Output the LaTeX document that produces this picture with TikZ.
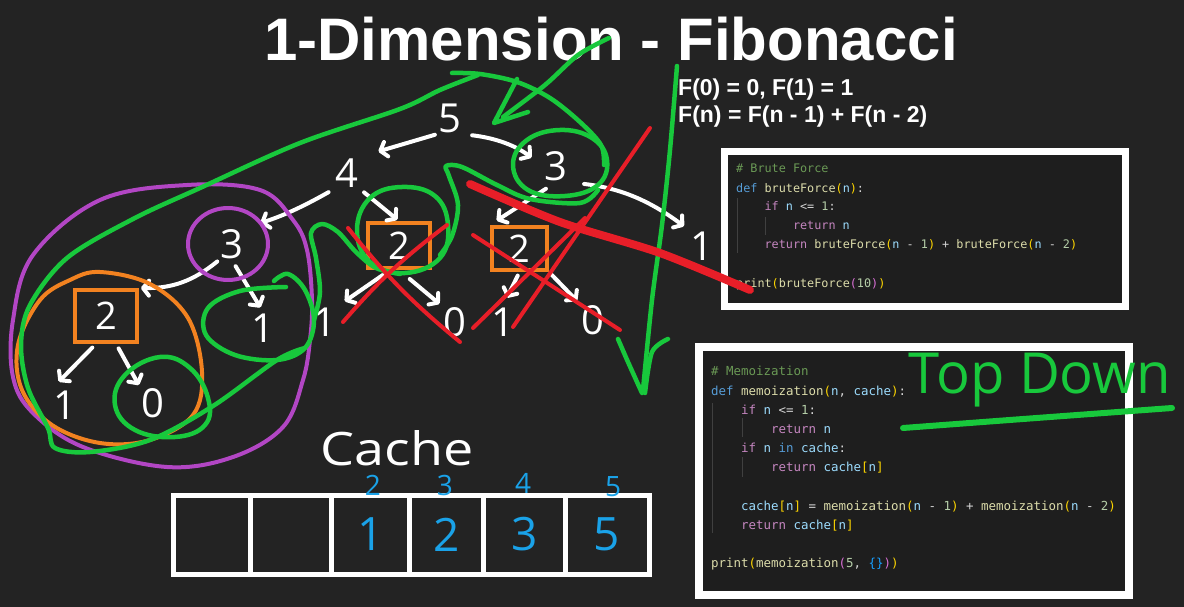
\documentclass[tikz,border=0pt]{standalone}
\usepackage{fontspec}
\usepackage{graphicx}
\setmainfont{Liberation Sans}
\newfontfamily\codefont{DejaVu Sans Mono}
\newfontfamily\handfont{Open Sans}
\usetikzlibrary{arrows.meta,calc}

% board and pen colours
\definecolor{board}{RGB}{35,35,35}
\definecolor{panel}{RGB}{30,30,30}
\definecolor{pengreen}{RGB}{24,200,60}
\definecolor{penpurple}{RGB}{178,70,196}
\definecolor{penorange}{RGB}{242,130,32}
\definecolor{penred}{RGB}{232,30,40}
\definecolor{penblue}{RGB}{26,162,232}
\definecolor{guide}{RGB}{64,64,64}
% editor syntax colours
\definecolor{cCom}{HTML}{6A9955}
\definecolor{cDef}{HTML}{569CD6}
\definecolor{cFn}{HTML}{DCDCAA}
\definecolor{cVar}{HTML}{9CDCFE}
\definecolor{cCtl}{HTML}{C586C0}
\definecolor{cNum}{HTML}{B5CEA8}
\definecolor{cOp}{HTML}{D4D4D4}
\definecolor{cBa}{HTML}{FFD700}
\definecolor{cBb}{HTML}{DA70D6}
\definecolor{cBc}{HTML}{179FFF}

\newcommand\Kcom[1]{\textcolor{cCom}{#1}}
\newcommand\Kdef[1]{\textcolor{cDef}{#1}}
\newcommand\Kfn[1]{\textcolor{cFn}{#1}}
\newcommand\Kvar[1]{\textcolor{cVar}{#1}}
\newcommand\Kctl[1]{\textcolor{cCtl}{#1}}
\newcommand\Knum[1]{\textcolor{cNum}{#1}}
\newcommand\Kbra[1]{\textcolor{cBa}{#1}}
\newcommand\Kbrb[1]{\textcolor{cBb}{#1}}
\newcommand\Kbrc[1]{\textcolor{cBc}{#1}}

\tikzset{
  pen/.style={line width=4pt, line cap=round, line join=round},
  gpen/.style={pen, draw=pengreen, line width=4.5pt},
  ppen/.style={pen, draw=penpurple},
  openpen/.style={pen, draw=penorange},
  rpen/.style={pen, draw=penred},
  num/.style={text=white, font=\handfont\fontsize{40}{40}\selectfont,
    minimum width=26pt, minimum height=32pt, inner sep=0pt},
  obox/.style={draw=penorange, line width=4pt, text=white,
    font=\handfont\fontsize{38}{38}\selectfont, inner sep=0pt},
  warrow/.style={pen, draw=white, -{Straight Barb[round,length=6pt,width=15pt]}},
  codebox/.style={draw=white, fill=panel, inner sep=0pt},
  codeA/.style={anchor=base west, inner sep=0pt, text=cOp,
    font=\codefont\fontsize{11.8}{11.8}\selectfont},
  codeB/.style={anchor=base west, inner sep=0pt, text=cOp,
    font=\codefont\fontsize{12.45}{12.45}\selectfont},
  cell/.style={draw=white, line width=5pt, minimum height=79pt, inner sep=0pt,
    text=penblue, font=\handfont\fontsize{46}{46}\selectfont},
  idx/.style={text=penblue, inner sep=0pt, font=\handfont\fontsize{28}{28}\selectfont},
  guideline/.style={draw=guide, line width=1pt},
}

\begin{document}
\begin{tikzpicture}[x=1pt,y=-1pt]
\useasboundingbox (0,0) rectangle (1184,607);
\fill[board] (0,0) rectangle (1184,607);

% ---------- headings ----------
\node[anchor=base, text=white, inner sep=0pt,
      font=\bfseries\fontsize{60}{60}\selectfont] (title) at (611,61) {1-Dimension - Fibonacci};
\node[anchor=base west, text=white, inner sep=0pt,
      font=\bfseries\fontsize{23}{23}\selectfont] (rec1) at (678,95.5) {F(0) = 0, F(1) = 1};
\node[anchor=base west, text=white, inner sep=0pt,
      font=\bfseries\fontsize{23}{23}\selectfont] (rec2) at (678,122.5) {F(n) = F(n - 1) + F(n - 2)};

% ---------- brute force panel ----------
\node[codebox, line width=7pt, minimum width=401.5pt, minimum height=154.5pt] (brute) at (924.75,228.75) {};
\draw[guideline] (737,198) -- (737,253);
\draw[guideline] (765,217) -- (765,235);
\node[codeA] (b1) at (736,173)   {\Kcom{\# Brute Force}};
\node[codeA] (b2) at (736,192.5) {\Kdef{def} \Kfn{bruteForce}\Kbra{(}\Kvar{n}\Kbra{)}:};
\node[codeA] (b3) at (764.4,211) {\Kctl{if} \Kvar{n} <= \Knum{1}:};
\node[codeA] (b4) at (792.8,229.5) {\Kctl{return} \Kvar{n}};
\node[codeA] (b5) at (764.4,248.5) {\Kctl{return} \Kfn{bruteForce}\Kbra{(}\Kvar{n} - \Knum{1}\Kbra{)} + \Kfn{bruteForce}\Kbra{(}\Kvar{n} - \Knum{2}\Kbra{)}};
\node[codeA] (b6) at (736,287)   {\Kfn{print}\Kbra{(}\Kfn{bruteForce}\Kbrb{(}\Knum{10}\Kbrb{)}\Kbra{)}};

% ---------- memoization panel ----------
\node[codebox, line width=8pt, minimum width=430pt, minimum height=247.5pt] (memo) at (914,470.75) {};
\draw[guideline] (712,403) -- (712,533);
\draw[guideline] (742,418) -- (742,437);
\draw[guideline] (742,457) -- (742,477);
\node[codeB] (m1) at (711,375.7) {\Kcom{\# Memoization}};
\node[codeB] (m2) at (711,395.5) {\Kdef{def} \Kfn{memoization}\Kbra{(}\Kvar{n}, \Kvar{cache}\Kbra{)}:};
\node[codeB] (m3) at (741,414.5) {\Kctl{if} \Kvar{n} <= \Knum{1}:};
\node[codeB] (m4) at (771,433.5) {\Kctl{return} \Kvar{n}};
\node[codeB] (m5) at (741,452.5) {\Kctl{if} \Kvar{n} \Kdef{in} \Kvar{cache}:};
\node[codeB] (m6) at (771,471.5) {\Kctl{return} \Kvar{cache}\Kbra{[}\Kvar{n}\Kbra{]}};
\node[codeB] (m7) at (741,510)   {\Kvar{cache}\Kbra{[}\Kvar{n}\Kbra{]} = \Kfn{memoization}\Kbra{(}\Kvar{n} - \Knum{1}\Kbra{)} + \Kfn{memoization}\Kbra{(}\Kvar{n} - \Knum{2}\Kbra{)}};
\node[codeB] (m8) at (741,529)   {\Kctl{return} \Kvar{cache}\Kbra{[}\Kvar{n}\Kbra{]}};
\node[codeB] (m9) at (711,567)   {\Kfn{print}\Kbra{(}\Kfn{memoization}\Kbrb{(}\Knum{5}, \Kbrc{\{\}}\Kbrb{)}\Kbra{)}};

% ---------- call tree ----------
\node[num] (n5)  at (450,118) {5};
\node[num] (n4)  at (347,173) {4};
\node[num] (n3r) at (556,166) {3};
\node[num] (n3l) at (232,244) {3};
\node[num] (n1r) at (702,246) {1};
\node[num] (n1a) at (263,328) {1};
\node[num] (n1b) at (325,322) {1};
\node[num] (n0a) at (455,322) {0};
\node[num] (n1c) at (503,322) {1};
\node[num] (n0b) at (593,320) {0};
\node[num] (n1d) at (65,405)  {1};
\node[num] (n0c) at (153,403) {0};
\node[obox, minimum width=62pt, minimum height=45pt] (n2m) at (399,245.5) {2};
\node[obox, minimum width=55pt, minimum height=43pt] (n2r) at (519.5,248.5) {2};
\node[obox, minimum width=62pt, minimum height=52pt] (n2l) at (106,316) {2};

\draw[warrow, shorten <=2pt, shorten >=19pt] (n5.south west) -- (n4.north east);
\draw[warrow, shorten <=9pt, shorten >=14pt] (n5.south east) to[bend left=15] (n3r.west);
\draw[warrow, shorten <=6pt, shorten >=16pt] (n4.south west) to[bend left=6] (n3l.north east);
\draw[warrow, shorten <=5pt, shorten >=2pt] (n4.south east) -- (n2m.north);
\draw[warrow, shorten <=12pt, shorten >=8pt] (n3r.south) -- (n2r.north west);
\draw[warrow, shorten <=15pt, shorten >=6pt] (n3r.south east) to[bend left=15] (n1r.north west);
\draw[warrow, shorten <=2pt, shorten >=2pt] (n3l.south west) to[bend left=20] (n2l.north east);
\draw[warrow, shorten <=7pt, shorten >=5pt] (n3l.south) -- (n1a.north);
\draw[warrow, shorten <=9pt, shorten >=8pt] (n2m.250) -- (n1b.north east);
\draw[warrow, shorten <=14pt, shorten >=3pt] (n2m.south) -- (n0a.north west);
\draw[warrow, shorten <=4pt, shorten >=9pt] (n2r.south) -- (n1c.north);
\draw[warrow, shorten <=4pt, shorten >=4pt] (n2r.south east) -- (n0b.north west);
\draw[warrow, shorten <=5pt, shorten >=10pt] (n2l.250) -- (n1d.north west);
\draw[warrow, shorten <=5pt, shorten >=2pt] (n2l.290) -- (n0c.north west);

% purple: the fib(3) subtree and its root
\draw[ppen] plot[smooth cycle, tension=0.6] coordinates {(187,185) (260,190) (293,220) (307,250) (312,300) (310,340) (303,380) (283,427) (233,457) (167,467) (83,447) (33,413) (13,377) (13,320) (33,255) (100,200)};
\draw[ppen] (228,244) ellipse [x radius=40, y radius=36];

% orange: the fib(2) subtree
\draw[openpen] plot[smooth cycle, tension=0.6] coordinates {(100,272) (150,284) (188,318) (202,372) (193,415) (150,440) (100,443) (52,425) (22,390) (18,345) (40,300) (70,280)};

% green: the memoized left branch
\draw[gpen] plot[smooth, tension=0.55] coordinates {(478,75) (440,90) (400,109) (300,143) (200,188) (133,219) (67,258) (30,305) (21,345) (28,388) (48,428) (55,448) (90,452) (150,440) (213,406) (277,360) (305,348)};
\draw[gpen] plot[smooth, tension=0.6] coordinates {(286,287) (240,291) (208,308) (206,335) (235,355) (277,360) (305,348) (314,320) (305,290) (288,274) (274,281)};
\draw[gpen] plot[smooth, tension=0.55] coordinates {(314,320) (320,292) (316,258) (311,233) (322,224) (338,232) (356,252) (376,268) (400,274)};
\draw[gpen] plot[smooth cycle, tension=0.7] coordinates {(402,187) (435,196) (448,225) (440,258) (405,273) (370,262) (357,230) (370,198)};
\draw[gpen] plot[smooth, tension=0.55] coordinates {(440,255) (452,236) (458,205) (449,176) (446,166) (462,167) (497,185) (530,199) (580,203) (598,190)};
\draw[gpen] plot[smooth cycle, tension=0.7] coordinates {(560,130) (592,138) (607,160) (598,185) (565,196) (528,190) (513,165) (527,140)};
\draw[gpen] plot[smooth, tension=0.55] coordinates {(604,165) (601,145) (580,122) (550,98) (517,82) (480,74) (452,73)};
\draw[gpen] plot[smooth cycle, tension=0.7] coordinates {(160,357) (190,368) (208,398) (205,425) (175,437) (135,430) (115,405) (125,375)};

% green arrows: from the heading into the tree, and down the side
\draw[gpen] plot[smooth] coordinates {(609,38) (578,55) (545,85) (503,117)};
\draw[gpen] (517,79) -- (494,123) -- (528,112);
\draw[gpen] plot[smooth] coordinates {(677,66) (670,150) (662,225) (652,300) (643,390)};
\draw[gpen] plot[smooth] coordinates {(618,339) (628,362) (642,393)};
\draw[gpen] plot[smooth] coordinates {(668,339) (652,352) (645,393)};

% red: repeated work crossed out
\draw[rpen] (343,322) to[bend left=6] (447,225);
\draw[rpen] (348,228) to[bend right=6] (460,342);
\draw[rpen] (473,328) -- (585,218);
\draw[rpen] (473,235) -- (620,330);
\draw[rpen] (513,327) -- (650,128);
\draw[rpen, line width=8pt] plot[smooth] coordinates {(470,184) (560,222) (660,253) (750,290)};

% top-down label
\node[text=pengreen, inner sep=0pt, font=\handfont] (topdown) at (1040,380) {\resizebox*{262pt}{54pt}{Top Down}};
\draw[gpen, line width=6pt] plot[smooth] coordinates {(903,428) (1023,419) (1172,408)};

% ---------- cache array ----------
\node[text=white, inner sep=0pt, font=\handfont] (cachelbl) at (397,448) {\resizebox{153pt}{35pt}{Cache}};
\node[cell, minimum width=77pt]   (c0) at (211.5,534.5) {};
\node[cell, minimum width=81.5pt] (c1) at (290.75,534.5) {};
\node[cell, minimum width=77.5pt] (c2) at (370.25,534.5) {1};
\node[cell, minimum width=74.5pt] (c3) at (446.25,534.5) {2};
\node[cell, minimum width=81.5pt] (c4) at (524.25,534.5) {3};
\node[cell, minimum width=84pt]   (c5) at (607,534.5) {5};
\node[idx] (i2) at (373,485) {2};
\node[idx] (i3) at (445,485) {3};
\node[idx] (i4) at (523,483) {4};
\node[idx] (i5) at (613,487) {5};
\end{tikzpicture}
\end{document}
